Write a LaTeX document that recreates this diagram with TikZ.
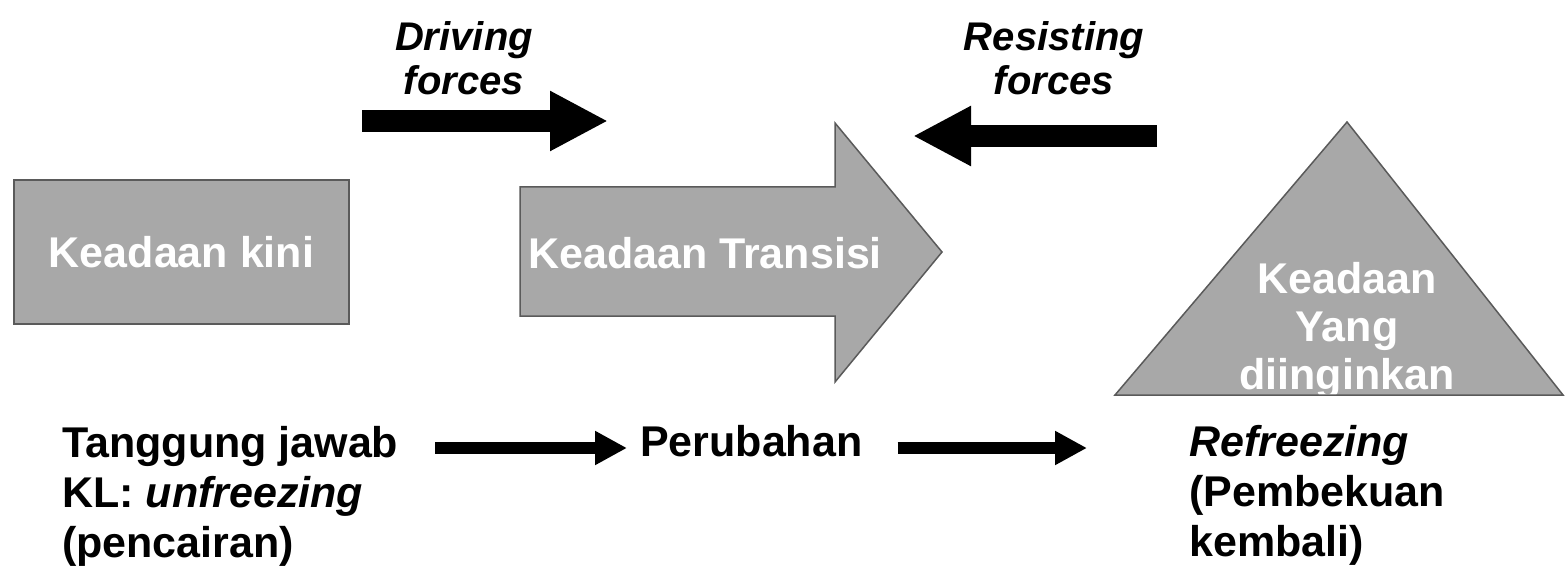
\documentclass[tikz,border=0pt]{standalone}
\usepackage{fontspec}
\setmainfont{Liberation Sans}
\usetikzlibrary{arrows.meta,calc}
\definecolor{shapegray}{HTML}{A8A8A8}
\definecolor{edgegray}{HTML}{5A5A5A}
\begin{document}
\begin{tikzpicture}[x=1pt,y=-1pt,
  shapefill/.style={fill=shapegray, draw=edgegray, line width=1.5pt, line join=miter},
  shapeedge/.style={draw=edgegray, line width=1.5pt, line join=miter},
  intext/.style={text=white, font=\bfseries\fontsize{43}{48}\selectfont, inner sep=0pt, align=center},
  labeltext/.style={font=\bfseries\itshape\fontsize{40}{44}\selectfont, inner sep=0pt, align=center, anchor=north},
  bottext/.style={font=\bfseries\fontsize{43}{50}\selectfont, inner sep=0pt, align=left, anchor=north west},
  forcearrow/.style={line width=22pt, -{Triangle[length=58pt,width=56pt]}},
  flowarrow/.style={line width=12pt, -{Triangle[length=32pt,width=32pt]}},
]
\useasboundingbox (0,0) rectangle (1565,569);

% present state box
\draw[shapefill] (14,180) rectangle (349,324);
\node[intext] (kini) at (181.5,252) {Keadaan kini};

% transition arrow
\draw[shapefill] (520,187) -- (835,187) -- (835,123) -- (942,252) -- (835,382) -- (835,316) -- (520,316) -- cycle;
\node[intext] (trans) at (705,253) {Keadaan Transisi};

% desired state triangle
\fill[shapegray] (1347,122) -- (1563,395) -- (1115,395) -- cycle;
\node[intext, anchor=north] (desired) at (1347,262) {Keadaan\\Yang\\diinginkan};
\draw[shapeedge] (1347,122) -- (1563,395) -- (1115,395) -- cycle;

% force arrows
\coordinate (d1) at (362,121);
\coordinate (d2) at (608,121);
\draw[forcearrow] (d1) -- (d2);
\node[labeltext] (drv) at (464,21) {Driving\\forces};

\coordinate (r1) at (1157,136);
\coordinate (r2) at (913,136);
\draw[forcearrow] (r1) -- (r2);
\node[labeltext] (res) at (1054,21) {Resisting\\forces};

% bottom texts
\node[bottext] (tj) at (62,426) {Tanggung jawab\\KL: \textit{unfreezing}\\(pencairan)};
\node[bottext] (pb) at (640,425) {Perubahan};
\node[bottext] (rf) at (1189,425) {\textit{Refreezing}\\(Pembekuan\\kembali)};

\coordinate (row) at (0,448);
\draw[flowarrow, shorten <=37pt, shorten >=13pt] (tj.east |- row) -- (pb.west |- row);
\draw[flowarrow, shorten <=35pt, shorten >=102pt] (pb.east |- row) -- (rf.west |- row);
\end{tikzpicture}
\end{document}
